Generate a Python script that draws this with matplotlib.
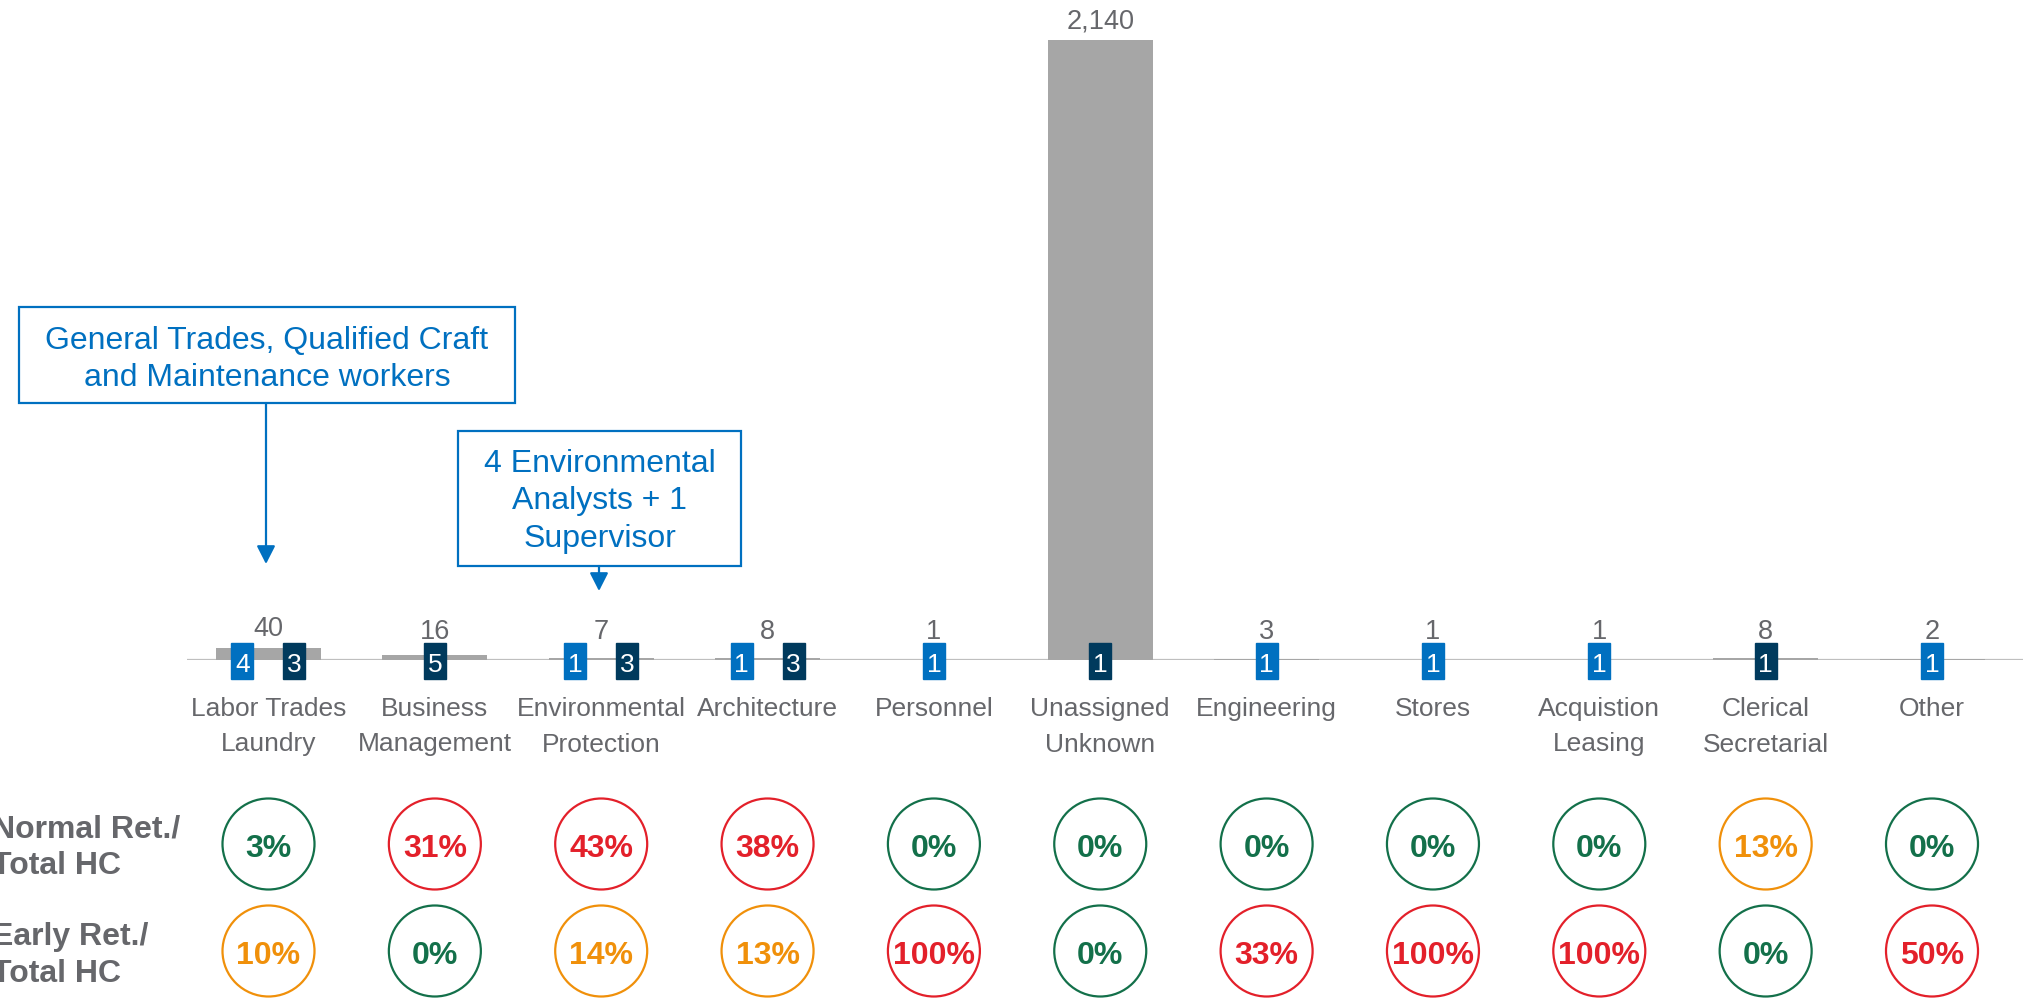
import matplotlib
matplotlib.use("Agg")
import matplotlib.pyplot as plt
from matplotlib.patches import Rectangle, Ellipse

plt.rcParams['font.family'] = ['Liberation Sans', 'DejaVu Sans']

# ---------------- data ----------------
categories = ["Labor Trades\nLaundry", "Business\nManagement", "Environmental\nProtection",
              "Architecture", "Personnel", "Unassigned\nUnknown", "Engineering", "Stores",
              "Acquistion\nLeasing", "Clerical\nSecretarial", "Other"]
headcount = [40, 16, 7, 8, 1, 2140, 3, 1, 1, 8, 2]
blue_badge = [4, 0, 1, 1, 1, 0, 1, 1, 1, 0, 1]
navy_badge = [3, 5, 3, 3, 0, 1, 0, 0, 0, 1, 0]
normal_ret_pct = [3, 31, 43, 38, 0, 0, 0, 0, 0, 13, 0]
early_ret_pct = [10, 0, 14, 13, 100, 0, 33, 100, 100, 0, 50]
row_labels = ["Normal Ret./\nTotal HC", "Early Ret./\nTotal HC"]
note1 = "General Trades, Qualified Craft\nand Maintenance workers"
note2 = "4 Environmental\nAnalysts + 1\nSupervisor"

# ---------------- style ----------------
W, H = 2024, 1001
X0, DX = 268.5, 166.35        # pixel x of first category, spacing
BASE = 660                    # baseline pixel y
TOP = 40                      # pixel y of max bar top
GRAY_TXT = "#66676B"
BAR = "#A6A6A6"
BLUE = "#0070C0"
NAVY = "#003A5D"
GREEN = "#13704A"
ORANGE = "#F0900A"
RED = "#E3202A"

def pcol(v):
    if v < 10:
        return GREEN
    if v < 30:
        return ORANGE
    return RED

fig = plt.figure(figsize=(W / 100, H / 100), dpi=100)
xlo, xhi = (187 - X0) / DX, (W - X0) / DX
ax = fig.add_axes([187 / W, 1 - BASE / H, 1 - 187 / W, BASE / H])
ymax = max(headcount) * BASE / (BASE - TOP)
ax.set_xlim(xlo, xhi)
ax.set_ylim(0, ymax)
ax.axis("off")
xs = list(range(len(categories)))
ax.bar(xs, headcount, width=105 / DX, color=BAR, zorder=2)
ax.axhline(0, color="#BFBFBF", lw=1.6, zorder=1)

# overlay axes in category-x / pixel-y units
ax2 = fig.add_axes([0, 0, 1, 1])
ax2.set_xlim((0 - X0) / DX, (W - X0) / DX)
ax2.set_ylim(H, 0)
ax2.axis("off")

px_per_unit = (BASE - TOP) / max(headcount)
bw = 22 / DX
for i, cat in enumerate(categories):
    v = headcount[i]
    top_px = BASE - v * px_per_unit
    base = min(top_px - 12, 639)
    ax2.text(i, base, f"{v:,}", ha="center", va="baseline", fontsize=19.5, color=GRAY_TXT)
    # badges
    items = []
    if blue_badge[i]:
        items.append((blue_badge[i], BLUE))
    if navy_badge[i]:
        items.append((navy_badge[i], NAVY))
    offs = [0] if len(items) == 1 else [-26 / DX, 26 / DX]
    for (n, c), o in zip(items, offs):
        ax2.add_patch(Rectangle((i + o - bw / 2, 643), bw, 36, color=c, zorder=5))
        ax2.text(i + o, 672, str(n), ha="center", va="baseline", fontsize=19,
                 color="white", zorder=6)
    # category labels
    for k, line in enumerate(cat.split("\n")):
        ax2.text(i, 716 + k * 35.5, line, ha="center", va="baseline", fontsize=19,
                 color=GRAY_TXT)
    # circles
    for cy, vals in ((844, normal_ret_pct), (951, early_ret_pct)):
        pv = vals[i]
        c = pcol(pv)
        ax2.add_patch(Ellipse((i, cy), 92 / DX, 91, fill=False, edgecolor=c, lw=1.6))
        ax2.text(i, cy + 13, f"{pv}%", ha="center", va="baseline", fontsize=23,
                 fontweight="bold", color=c)

# row labels
for lab, b0 in zip(row_labels, (837, 945)):
    for k, line in enumerate(lab.split("\n")):
        ax2.text((-8 - X0) / DX, b0 + k * 37.5, line, ha="left", va="baseline",
                 fontsize=23, fontweight="bold", color=GRAY_TXT)

# annotation boxes
def note(text, cx_px, x_left, x_right, y_top, y_bot, first_base, tip):
    l, r = (x_left - X0) / DX, (x_right - X0) / DX
    ax2.add_patch(Rectangle((l, y_top), r - l, y_bot - y_top, fill=False,
                            edgecolor=BLUE, lw=1.6, zorder=4))
    cx = (cx_px - X0) / DX
    for k, line in enumerate(text.split("\n")):
        ax2.text((l + r) / 2, first_base + k * 37.5, line, ha="center", va="baseline",
                 fontsize=23, color=BLUE)
    ax2.annotate("", xy=(cx, tip), xytext=(cx, y_bot),
                 arrowprops=dict(arrowstyle="-|>,head_length=0.55,head_width=0.28",
                                 color=BLUE, lw=1.6, shrinkA=0, shrinkB=0,
                                 mutation_scale=20))

note(note1, 266, 19, 515, 307, 403, 349, 564)
note(note2, 599, 458, 741, 431, 566, 472, 591)

fig.savefig("out.png", dpi=100)
